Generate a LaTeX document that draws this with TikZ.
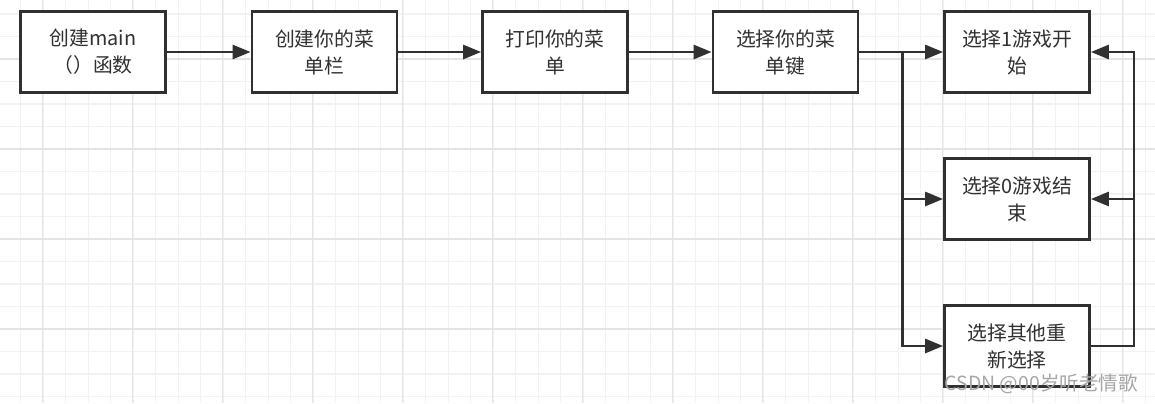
\documentclass[tikz,border=0pt]{standalone}
\usepackage{fontspec}
\setmainfont{Noto Sans CJK SC}
\usetikzlibrary{arrows.meta}
\definecolor{ink}{HTML}{303030}
\definecolor{gminor}{HTML}{F2F2F2}
\definecolor{gmajor}{HTML}{E4E4E4}
\tikzset{
  box/.style={draw=ink, line width=2.8bp, fill=white, minimum width=145bp, minimum height=81bp,
    align=center, text=ink, font=\fontsize{19.8bp}{27bp}\selectfont, inner sep=0pt},
  arr/.style={draw=ink, line width=2.8bp, -{Triangle[length=18bp,width=14bp]}},
}
\begin{document}
\begin{tikzpicture}[x=1bp,y=-1bp]
\useasboundingbox (0,0) rectangle (1155,403);
\fill[white] (0,0) rectangle (1155,403);
\begin{scope}
\clip (0,0) rectangle (1155,403);
\foreach \i in {0,...,52} {\draw[gminor, line width=1.2bp] ({-1.8+22.5*\i},0) -- ({-1.8+22.5*\i},403);}
\foreach \i in {0,...,19} {\draw[gminor, line width=1.2bp] (0,{-8.5+22.5*\i}) -- (1155,{-8.5+22.5*\i});}
\foreach \i in {0,...,13} {\draw[gmajor, line width=1.4bp] ({42.7+90*\i},0) -- ({42.7+90*\i},403);}
\foreach \i in {0,...,4} {\draw[gmajor, line width=1.4bp] (0,{59+90*\i}) -- (1155,{59+90*\i});}
\end{scope}

\node[box] (b1) at (93,52) {创建main\\（）函数};
\node[box] (b2) at (324.5,52) {创建你的菜\\单栏};
\node[box] (b3) at (555,52) {打印你的菜\\单};
\node[box] (b4) at (785.5,52) {选择你的菜\\单键};
\node[box] (b5) at (1017,52) {选择1游戏开\\始};
\node[box] (b6) at (1017,199) {选择0游戏结\\束};
\node[box] (b7) at (1017,346) {选择其他重\\新选择};

\coordinate (L) at (902.5,52);
\coordinate (R5) at (1134,52);
\coordinate (R6) at (1134,199);

\draw[arr] (b1.east) -- (b2.west);
\draw[arr] (b2.east) -- (b3.west);
\draw[arr] (b3.east) -- (b4.west);
\draw[arr] (b4.east) -- (b5.west);
\draw[arr] (b4.east) -- (L) |- (b6.west);
\draw[arr] (b4.east) -- (L) |- (b7.west);
\draw[arr] (b7.east) -| (R5) -- (b5.east);
\draw[arr] (b7.east) -| (R6) -- (b6.east);

\node[text=gray!70, font=\fontsize{19.5bp}{21bp}\selectfont, anchor=center, inner sep=0pt] (wm) at (1041,384) {CSDN @00岁听老情歌};
\end{tikzpicture}
\end{document}
